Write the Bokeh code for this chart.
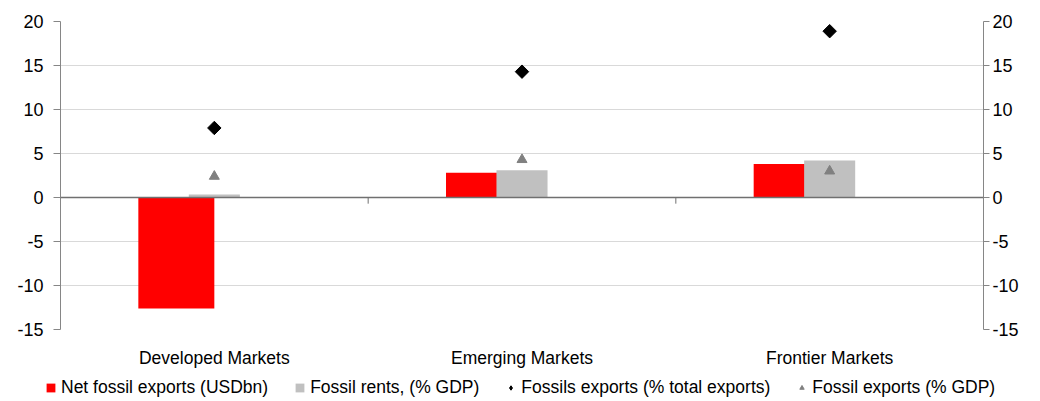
import numpy as np
from bokeh.plotting import figure
from bokeh.models import (Range1d, LinearAxis, FixedTicker, Legend, LegendItem,
                          ColumnDataSource, Span)
from bokeh.embed import file_html
from bokeh.resources import INLINE

# --- data -------------------------------------------------------------
categories = ["Developed Markets", "Emerging Markets", "Frontier Markets"]
net_fossil_exports = [-12.6, 2.8, 3.8]        # USDbn
fossil_rents_gdp = [0.35, 3.1, 4.2]           # % GDP
fossil_exports_total = [7.9, 14.3, 18.9]      # % total exports
fossil_exports_gdp = [2.4, 4.3, 3.0]          # % GDP
y_ticks = [-15, -10, -5, 0, 5, 10, 15, 20]
series_names = ["Net fossil exports (USDbn)", "Fossil rents, (% GDP)",
                "Fossils exports (% total exports)", "Fossil exports (% GDP)"]

FONT = "Liberation Sans"
RED = "#ff0000"
GREY_BAR = "#c0c0c0"
GREY_MARK = "#808080"
AXIS = "#868686"
ZERO = "#707070"

centers = np.arange(len(categories)) + 0.5
red_w = 0.247
grey_w = 0.166

src = ColumnDataSource(dict(
    center=centers,
    red_x=centers - red_w / 2,
    net=net_fossil_exports,
    rents=fossil_rents_gdp,
    total=fossil_exports_total,
    gdp=fossil_exports_gdp,
))

p = figure(width=1040, height=370, output_backend="svg", toolbar_location=None,
           x_range=Range1d(0, len(categories)), y_range=Range1d(-15, 20),
           min_border_left=60, min_border_right=57, min_border_top=21,
           min_border_bottom=40, outline_line_color=None,
           x_axis_location=None, y_axis_location=None)
p.background_fill_color = "white"
p.border_fill_color = "white"

# grid
p.xgrid.grid_line_color = None
p.ygrid.ticker = FixedTicker(ticks=y_ticks)
p.ygrid.grid_line_color = "#d9d9d9"
p.ygrid.grid_line_width = 1

# bars (grey drawn over red)
p.vbar(x="red_x", top="net", width=red_w, bottom=0, source=src,
       fill_color=RED, line_color=None)
p.vbar(x="center", top="rents", width=grey_w, bottom=0, source=src,
       fill_color=GREY_BAR, line_color=None)

# zero line and category separators
p.add_layout(Span(location=0, dimension="width", line_color=ZERO, line_width=1.5))
bounds = np.arange(1, len(categories))
p.segment(x0=bounds, x1=bounds, y0=np.zeros(len(bounds)),
          y1=np.full(len(bounds), -0.7), line_color=ZERO, line_width=1)

# markers
p.scatter(x="center", y="total", source=src, marker="square", angle=np.pi / 4,
          size=9.5, fill_color="black", line_color="black")
p.scatter(x="center", y="gdp", source=src, marker="triangle", size=10,
          fill_color=GREY_MARK, line_color=GREY_MARK)


def style_y(ax, tick_out, standoff):
    ax.ticker = FixedTicker(ticks=y_ticks)
    ax.major_label_overrides = {t: str(t) for t in y_ticks}
    ax.axis_line_color = AXIS
    ax.axis_line_width = 1
    ax.major_tick_line_color = AXIS
    ax.major_tick_out = tick_out
    ax.major_tick_in = 0
    ax.minor_tick_line_color = None
    ax.major_label_standoff = standoff
    ax.major_label_text_font = FONT
    ax.major_label_text_font_size = "18px"
    ax.major_label_text_color = "black"


left = LinearAxis()
style_y(left, 7, 10)
p.add_layout(left, "left")

right = LinearAxis()
style_y(right, 6, 3)
p.add_layout(right, "right")

# category labels
cat_ax = LinearAxis(ticker=FixedTicker(ticks=list(centers)),
                    major_label_overrides={float(c): n for c, n in zip(centers, categories)})
cat_ax.axis_line_color = None
cat_ax.major_tick_line_color = None
cat_ax.minor_tick_line_color = None
cat_ax.major_tick_out = 0
cat_ax.major_tick_in = 0
cat_ax.major_label_standoff = 18
cat_ax.major_label_text_font = FONT
cat_ax.major_label_text_font_size = "17.5px"
cat_ax.major_label_text_color = "black"
p.add_layout(cat_ax, "below")

# --- legend strip (separate root, full-width frame) ---------------------
lg = figure(width=1040, height=31, output_backend="svg", toolbar_location=None,
            x_range=Range1d(0, 1), y_range=Range1d(0, 1),
            min_border_left=0, min_border_right=0, min_border_top=0,
            min_border_bottom=0, outline_line_color=None,
            x_axis_location=None, y_axis_location=None)
lg.grid.grid_line_color = None
lg.background_fill_color = "white"
lg.border_fill_color = "white"

nan = ColumnDataSource(dict(x=[np.nan], y=[np.nan]))
l_red = lg.vbar(x="x", top="y", width=0.1, bottom=0, source=nan,
                fill_color=RED, line_color=None)
l_grey = lg.vbar(x="x", top="y", width=0.1, bottom=0, source=nan,
                 fill_color=GREY_BAR, line_color=None)
l_dia = lg.scatter(x="x", y="y", source=nan, marker="diamond", size=9,
                   fill_color="black", line_color="black")
l_tri = lg.scatter(x="x", y="y", source=nan, marker="triangle", size=7,
                   fill_color=GREY_MARK, line_color=GREY_MARK)

legend = Legend(items=[LegendItem(label=n, renderers=[r]) for n, r in
                       zip(series_names, [l_red, l_grey, l_dia, l_tri])],
                orientation="horizontal", location=(45, 3))
legend.glyph_width = 11
legend.glyph_height = 11
legend.label_standoff = 5
legend.spacing = 26
legend.padding = 0
legend.margin = 0
legend.border_line_alpha = 0
legend.background_fill_alpha = 0
legend.label_text_font = FONT
legend.label_text_font_size = "17.5px"
legend.label_text_color = "black"
legend.label_height = 18
lg.add_layout(legend, "center")

open("out.html", "w").write(file_html([p, lg], INLINE))
